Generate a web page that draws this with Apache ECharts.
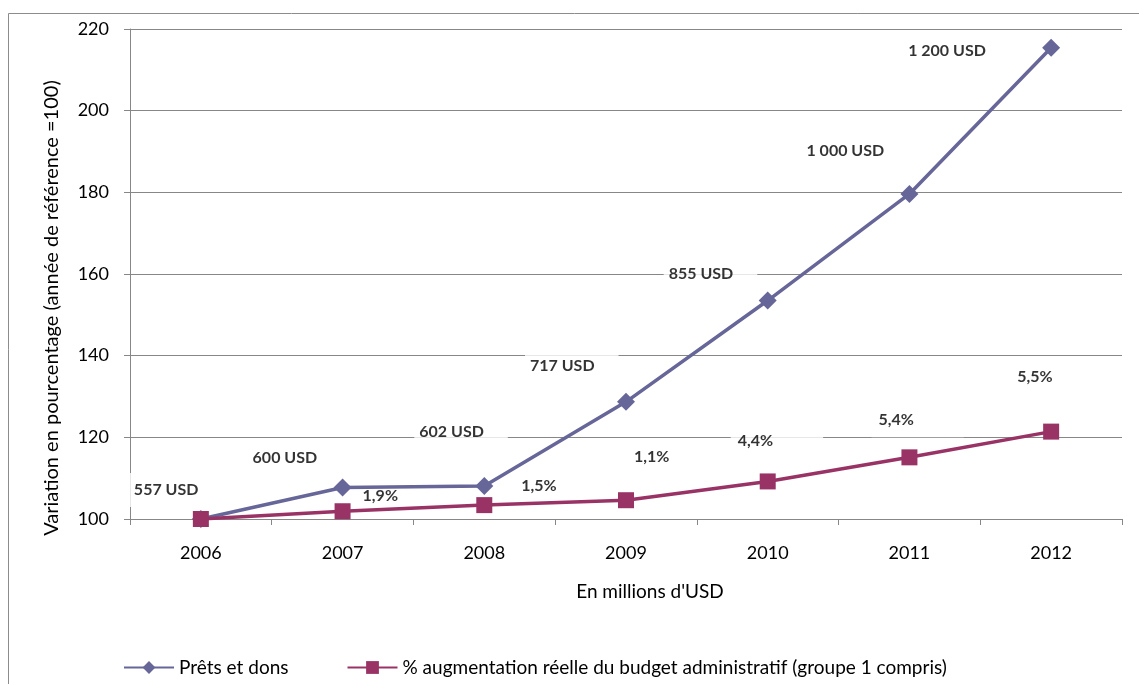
<!DOCTYPE html>
<html>
<head>
<meta charset="utf-8">
<script src="https://cdn.jsdelivr.net/npm/echarts@6/dist/echarts.min.js"></script>
<style>
html,body{margin:0;padding:0;background:#fff;}
#chart{width:1139px;height:684px;}
</style>
</head>
<body>
<div id="chart"></div>
<script>
// ---- data ----
const years = ['2006', '2007', '2008', '2009', '2010', '2011', '2012'];
const pretsValues = [100, 107.7, 108.1, 128.7, 153.5, 179.6, 215.4];
const budgetValues = [100, 101.9, 103.4, 104.6, 109.2, 115.1, 121.4];
const pretsLabels = ['557 USD', '600 USD', '602 USD', '717 USD', '855 USD', '1 000 USD', '1 200 USD'];
const budgetLabels = ['', '1,9%', '1,5%', '1,1%', '4,4%', '5,4%', '5,5%'];
const seriesNames = ['Prêts et dons', '% augmentation réelle du budget administratif (groupe 1 compris)'];
const yAxisTitle = 'Variation en pourcentage (année de référence =100)';
const xAxisTitle = "En millions d'USD";
const yTicks = { min: 100, max: 220, interval: 20 };

// ---- label layout (pixel offsets from each point) ----
const pretsLabelOffsets = [[-72, -29], [-95, -30], [-70, -54], [-101, -36], [-104, -27], [-108, -43], [-148, 3]];
const budgetLabelOffsets = [[0, 0], [13, -15], [30, -19], [1, -43], [-37, -41], [-38, -37], [-41, -55]];

const FONT = 'Lato, "Open Sans", sans-serif';
const C1 = '#666699', C2 = '#993366', GRID = '#878787';

const chart = echarts.init(document.getElementById('chart'), null, { renderer: 'canvas' });

function labelData(values, texts, offsets, padL, padR) {
  return values.map((v, i) => ({
    value: v,
    label: texts[i] ? {
      show: true,
      formatter: texts[i],
      offset: offsets[i],
      padding: [9, padR, 9, padL]
    } : { show: false }
  }));
}

const labelCommon = {
  show: true,
  position: 'inside',
  align: 'left',
  verticalAlign: 'middle',
  color: '#000',
  fontFamily: FONT,
  fontWeight: 'bold',
  fontSize: 16,
  backgroundColor: '#fff'
};

chart.setOption({
  animation: false,
  textStyle: { fontFamily: FONT },
  graphic: [
    {
      type: 'rect', left: 8, top: 13, z: -10,
      shape: { width: 1200, height: 720 },
      style: { fill: '#fff', stroke: '#8c8c8c', lineWidth: 1 }
    },
    {
      type: 'text', x: 52, y: 308, rotation: Math.PI / 2, z: 5,
      style: { text: yAxisTitle, fontFamily: FONT, fontSize: 20, fill: '#000', align: 'center', verticalAlign: 'middle' }
    }
  ],
  grid: { left: 130, right: 17, top: 29, bottom: 165, containLabel: false },
  legend: {
    data: seriesNames,
    left: 118, top: 653,
    itemWidth: 50, itemHeight: 16, itemGap: 58,
    textStyle: { fontFamily: FONT, fontSize: 19, color: '#000' }
  },
  xAxis: {
    type: 'category',
    data: years,
    boundaryGap: true,
    name: xAxisTitle,
    nameLocation: 'middle',
    nameGap: 63,
    nameTextStyle: { fontFamily: FONT, fontSize: 19, color: '#000', padding: [0, 0, 0, 48] },
    axisLine: { lineStyle: { color: GRID, width: 1 } },
    axisTick: { show: true, length: 6, alignWithLabel: false, lineStyle: { color: GRID } },
    axisLabel: { fontFamily: FONT, fontSize: 18, color: '#000', margin: 25 },
    splitLine: { show: false }
  },
  yAxis: {
    type: 'value',
    min: yTicks.min, max: yTicks.max, interval: yTicks.interval,
    axisLine: { show: true, lineStyle: { color: GRID, width: 1 } },
    axisTick: { show: true, length: 6, lineStyle: { color: GRID } },
    axisLabel: { fontFamily: FONT, fontSize: 18, color: '#000', margin: 21 },
    splitLine: { show: true, lineStyle: { color: GRID, width: 1 } }
  },
  series: [
    {
      name: seriesNames[0], type: 'line', z: 3,
      data: pretsValues,
      symbol: 'diamond', symbolSize: 18,
      lineStyle: { color: C1, width: 3.5 },
      itemStyle: { color: C1 },
      label: { show: false }
    },
    {
      name: seriesNames[1], type: 'line', z: 4,
      data: budgetValues,
      symbol: 'rect', symbolSize: 16,
      lineStyle: { color: C2, width: 3.5 },
      itemStyle: { color: C2 },
      label: { show: false }
    },
    {
      name: 'lblPrets', type: 'scatter', z: 1, silent: true,
      symbolSize: 1, itemStyle: { color: 'rgba(0,0,0,0)' },
      label: labelCommon,
      data: labelData(pretsValues, pretsLabels, pretsLabelOffsets, 5, 24)
    },
    {
      name: 'lblBudget', type: 'scatter', z: 1, silent: true,
      symbolSize: 1, itemStyle: { color: 'rgba(0,0,0,0)' },
      label: labelCommon,
      data: labelData(budgetValues, budgetLabels, budgetLabelOffsets, 7, 50)
    }
  ]
});
</script>
</body>
</html>
